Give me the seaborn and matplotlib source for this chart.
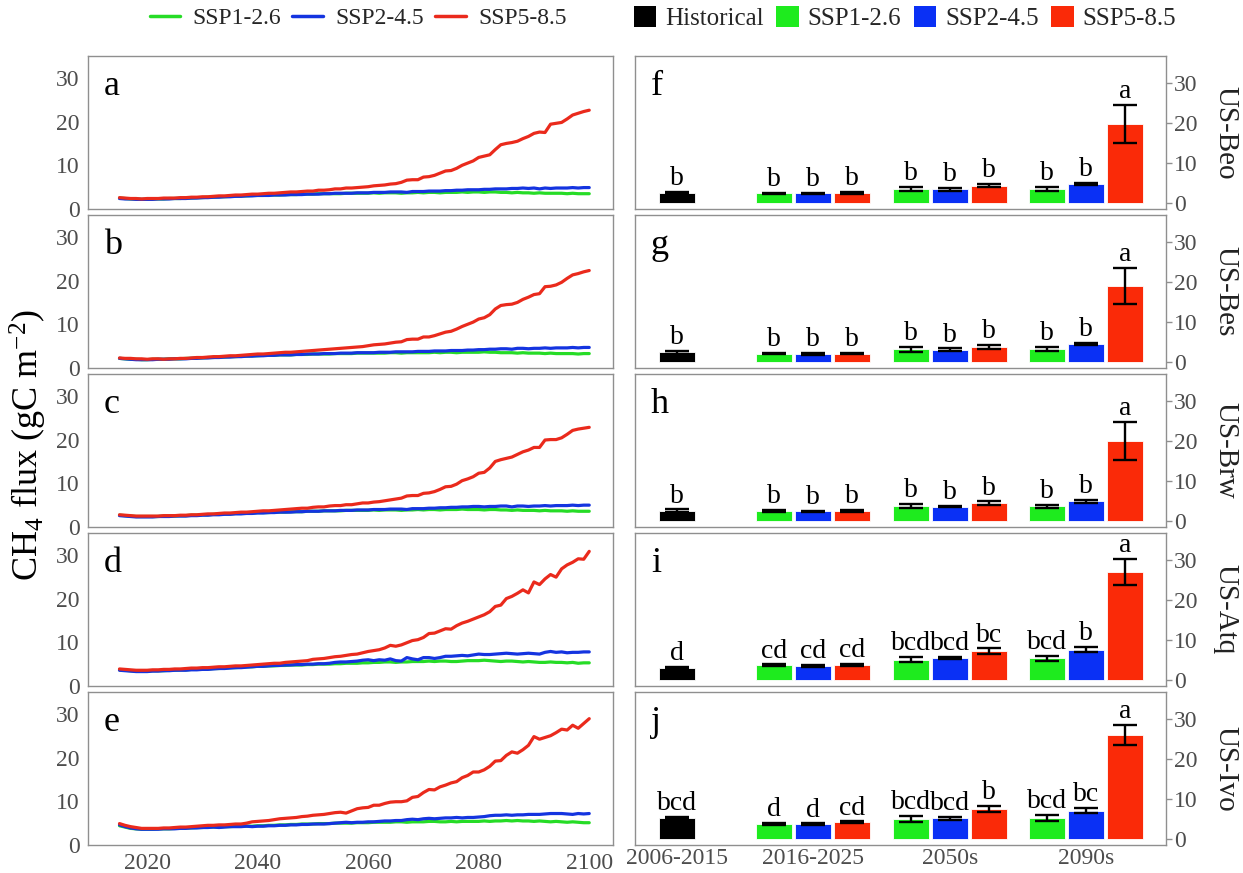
import numpy as np
import pandas as pd
import matplotlib
matplotlib.use("Agg")
import matplotlib.pyplot as plt
import seaborn as sns
from matplotlib.lines import Line2D
from matplotlib.patches import Patch

sns.set_theme(style="white")
plt.rcParams['font.family'] = ['Liberation Serif', 'DejaVu Serif']
plt.rcParams['mathtext.fontset'] = 'custom'
plt.rcParams['mathtext.rm'] = 'Liberation Serif'
plt.rcParams['mathtext.it'] = 'Liberation Serif:italic'
plt.rcParams['mathtext.bf'] = 'Liberation Serif:bold'

# ---------------- data ----------------
years = list(range(2015, 2101))
scenarios = ["SSP1-2.6", "SSP2-4.5", "SSP5-8.5"]
sites = ["US-Beo", "US-Bes", "US-Brw", "US-Atq", "US-Ivo"]
left_letters = ["a", "b", "c", "d", "e"]
right_letters = ["f", "g", "h", "i", "j"]
periods = ["2006-2015", "2016-2025", "2050s", "2090s"]

red_a = [2.6, 2.5, 2.4, 2.4, 2.3, 2.4, 2.4, 2.4, 2.5, 2.5,
         2.5, 2.6, 2.6, 2.7, 2.7, 2.8, 2.8, 2.9, 3.0, 3.0,
         3.1, 3.2, 3.2, 3.3, 3.4, 3.4, 3.5, 3.6, 3.6, 3.7,
         3.8, 3.9, 3.9, 4.0, 4.1, 4.1, 4.3, 4.3, 4.4, 4.6,
         4.6, 4.8, 4.8, 4.9, 5.0, 5.1, 5.3, 5.4, 5.5, 5.7,
         5.8, 6.1, 6.6, 6.7, 6.7, 7.3, 7.4, 7.7, 8.2, 8.7,
         8.8, 9.3, 10.0, 10.5, 11.0, 11.8, 12.1, 12.4, 13.6, 14.7,
         15.0, 15.2, 15.5, 16.1, 16.6, 17.3, 17.6, 17.5, 19.4, 19.6,
         19.8, 20.6, 21.5, 21.9, 22.3, 22.6]
blue_a = [2.4, 2.3, 2.3, 2.2, 2.2, 2.2, 2.2, 2.3, 2.3, 2.3,
          2.4, 2.4, 2.4, 2.5, 2.5, 2.6, 2.6, 2.7, 2.7, 2.8,
          2.8, 2.9, 2.9, 3.0, 3.0, 3.1, 3.1, 3.1, 3.2, 3.2,
          3.2, 3.3, 3.3, 3.3, 3.4, 3.4, 3.4, 3.5, 3.5, 3.6,
          3.6, 3.6, 3.6, 3.7, 3.7, 3.7, 3.8, 3.8, 3.8, 3.9,
          3.9, 3.9, 3.8, 4.0, 4.0, 4.0, 4.1, 4.1, 4.1, 4.2,
          4.2, 4.3, 4.3, 4.4, 4.4, 4.4, 4.5, 4.5, 4.6, 4.6,
          4.6, 4.7, 4.7, 4.8, 4.7, 4.8, 4.6, 4.8, 4.7, 4.8,
          4.8, 4.8, 4.9, 4.8, 4.9, 4.9]
green_a = [2.5, 2.4, 2.3, 2.3, 2.2, 2.2, 2.3, 2.3, 2.3, 2.4,
           2.4, 2.4, 2.5, 2.5, 2.6, 2.6, 2.7, 2.7, 2.8, 2.8,
           2.9, 2.9, 3.0, 3.0, 3.1, 3.1, 3.1, 3.2, 3.2, 3.2,
           3.3, 3.3, 3.3, 3.4, 3.4, 3.4, 3.5, 3.5, 3.5, 3.5,
           3.5, 3.6, 3.6, 3.6, 3.6, 3.6, 3.7, 3.6, 3.7, 3.7,
           3.7, 3.6, 3.7, 3.7, 3.8, 3.7, 3.8, 3.8, 3.7, 3.8,
           3.8, 3.8, 3.9, 3.8, 3.9, 3.9, 3.8, 3.9, 3.9, 3.8,
           3.8, 3.7, 3.8, 3.7, 3.7, 3.6, 3.7, 3.6, 3.6, 3.6,
           3.6, 3.5, 3.6, 3.5, 3.5, 3.5]

red_b = [2.3, 2.2, 2.2, 2.1, 2.1, 2.0, 2.1, 2.1, 2.0, 2.1,
         2.1, 2.2, 2.2, 2.3, 2.4, 2.4, 2.5, 2.6, 2.6, 2.7,
         2.8, 2.8, 2.9, 3.0, 3.1, 3.2, 3.2, 3.3, 3.4, 3.5,
         3.6, 3.6, 3.7, 3.8, 3.9, 4.0, 4.1, 4.2, 4.3, 4.4,
         4.5, 4.6, 4.7, 4.8, 4.9, 5.1, 5.3, 5.4, 5.5, 5.7,
         5.9, 6.0, 6.5, 6.6, 6.6, 7.1, 7.1, 7.4, 7.8, 8.2,
         8.4, 8.9, 9.5, 10.0, 10.5, 11.2, 11.5, 12.2, 13.5, 14.3,
         14.5, 14.6, 15.0, 15.7, 16.2, 16.8, 17.0, 18.6, 18.7, 19.0,
         19.6, 20.5, 21.3, 21.6, 22.0, 22.3]
blue_b = [2.2, 2.1, 2.0, 1.9, 1.9, 1.9, 1.9, 2.0, 2.0, 2.0,
          2.1, 2.1, 2.1, 2.2, 2.2, 2.3, 2.3, 2.4, 2.4, 2.5,
          2.5, 2.6, 2.6, 2.7, 2.7, 2.8, 2.8, 2.9, 2.9, 3.0,
          3.0, 3.0, 3.1, 3.1, 3.2, 3.2, 3.2, 3.3, 3.3, 3.3,
          3.4, 3.4, 3.4, 3.5, 3.5, 3.5, 3.5, 3.6, 3.6, 3.6,
          3.7, 3.7, 3.7, 3.7, 3.8, 3.8, 3.8, 3.9, 3.9, 3.9,
          4.0, 4.0, 4.0, 4.1, 4.1, 4.2, 4.2, 4.3, 4.3, 4.4,
          4.4, 4.3, 4.5, 4.5, 4.4, 4.5, 4.5, 4.6, 4.5, 4.6,
          4.6, 4.6, 4.7, 4.6, 4.7, 4.7]
green_b = [2.2, 2.1, 2.0, 2.0, 1.9, 1.9, 2.0, 2.0, 2.0, 2.1,
           2.1, 2.1, 2.2, 2.2, 2.3, 2.3, 2.4, 2.4, 2.5, 2.5,
           2.6, 2.6, 2.7, 2.7, 2.8, 2.8, 2.9, 2.9, 2.9, 3.0,
           3.0, 3.0, 3.1, 3.1, 3.1, 3.2, 3.2, 3.2, 3.2, 3.3,
           3.3, 3.3, 3.3, 3.4, 3.4, 3.4, 3.4, 3.4, 3.4, 3.5,
           3.5, 3.4, 3.5, 3.5, 3.5, 3.5, 3.5, 3.6, 3.5, 3.6,
           3.6, 3.5, 3.6, 3.6, 3.6, 3.6, 3.7, 3.6, 3.6, 3.5,
           3.5, 3.5, 3.4, 3.5, 3.4, 3.4, 3.4, 3.3, 3.4, 3.3,
           3.3, 3.3, 3.3, 3.2, 3.3, 3.3]

red_c = [2.8, 2.7, 2.6, 2.5, 2.5, 2.5, 2.5, 2.5, 2.6, 2.6,
         2.6, 2.7, 2.7, 2.8, 2.8, 2.9, 3.0, 3.0, 3.1, 3.2,
         3.2, 3.3, 3.4, 3.4, 3.5, 3.6, 3.7, 3.7, 3.8, 3.9,
         4.0, 4.1, 4.2, 4.3, 4.3, 4.5, 4.6, 4.6, 4.8, 4.9,
         4.9, 5.1, 5.1, 5.3, 5.5, 5.5, 5.7, 5.8, 6.0, 6.2,
         6.4, 6.6, 7.1, 7.2, 7.2, 7.7, 7.8, 8.1, 8.6, 9.2,
         9.3, 9.8, 10.6, 11.0, 11.5, 12.3, 12.5, 13.5, 15.0, 15.4,
         15.7, 16.0, 16.6, 17.2, 17.6, 18.2, 18.2, 19.9, 20.0, 20.0,
         20.4, 21.2, 22.1, 22.4, 22.6, 22.8]
blue_c = [2.6, 2.5, 2.4, 2.3, 2.3, 2.3, 2.3, 2.4, 2.4, 2.4,
          2.5, 2.5, 2.5, 2.6, 2.6, 2.7, 2.7, 2.8, 2.8, 2.9,
          2.9, 3.0, 3.0, 3.1, 3.1, 3.2, 3.2, 3.3, 3.3, 3.4,
          3.4, 3.4, 3.5, 3.5, 3.6, 3.6, 3.6, 3.7, 3.7, 3.7,
          3.8, 3.8, 3.8, 3.9, 3.9, 3.9, 4.0, 4.0, 4.0, 4.1,
          4.1, 4.1, 4.0, 4.2, 4.2, 4.2, 4.3, 4.3, 4.4, 4.4,
          4.5, 4.5, 4.6, 4.6, 4.7, 4.7, 4.6, 4.7, 4.7, 4.8,
          4.8, 4.6, 4.8, 4.8, 4.7, 4.8, 4.8, 4.9, 4.8, 4.9,
          4.9, 4.9, 5.0, 4.9, 5.0, 5.0]
green_c = [2.7, 2.6, 2.5, 2.4, 2.4, 2.4, 2.4, 2.4, 2.5, 2.5,
           2.5, 2.6, 2.6, 2.7, 2.7, 2.8, 2.8, 2.9, 2.9, 3.0,
           3.0, 3.1, 3.1, 3.2, 3.2, 3.3, 3.3, 3.3, 3.4, 3.4,
           3.4, 3.5, 3.5, 3.5, 3.6, 3.6, 3.6, 3.7, 3.7, 3.7,
           3.7, 3.8, 3.8, 3.8, 3.8, 3.8, 3.9, 3.8, 3.9, 3.9,
           3.9, 3.8, 3.9, 3.9, 4.0, 3.9, 4.0, 4.0, 3.9, 4.0,
           4.0, 4.0, 4.1, 4.0, 4.0, 4.0, 3.9, 4.0, 4.0, 3.9,
           3.9, 3.8, 3.9, 3.8, 3.8, 3.8, 3.7, 3.8, 3.7, 3.7,
           3.7, 3.6, 3.7, 3.6, 3.6, 3.6]

red_d = [3.9, 3.8, 3.7, 3.6, 3.6, 3.6, 3.7, 3.7, 3.8, 3.8,
         3.9, 3.9, 4.0, 4.1, 4.1, 4.2, 4.2, 4.3, 4.4, 4.4,
         4.5, 4.6, 4.6, 4.7, 4.8, 4.9, 5.0, 5.1, 5.2, 5.2,
         5.4, 5.5, 5.6, 5.7, 5.8, 6.1, 6.2, 6.3, 6.5, 6.7,
         6.8, 7.0, 7.2, 7.3, 7.6, 7.9, 8.1, 8.3, 8.7, 9.3,
         9.1, 9.4, 9.9, 10.4, 10.6, 11.1, 12.0, 12.1, 12.6, 13.1,
         13.0, 13.8, 14.4, 14.8, 15.3, 15.8, 16.3, 17.0, 18.2, 18.5,
         20.0, 20.5, 21.2, 22.0, 21.3, 23.8, 23.2, 24.5, 25.5, 24.9,
         26.8, 27.7, 28.3, 29.1, 29.0, 30.8]
blue_d = [3.6, 3.5, 3.4, 3.3, 3.3, 3.3, 3.4, 3.4, 3.5, 3.5,
          3.6, 3.6, 3.6, 3.7, 3.7, 3.8, 3.8, 3.9, 4.0, 4.0,
          4.1, 4.2, 4.2, 4.3, 4.4, 4.5, 4.5, 4.6, 4.7, 4.7,
          4.8, 4.8, 4.9, 4.9, 5.0, 5.0, 5.1, 5.1, 5.2, 5.4,
          5.5, 5.5, 5.6, 5.7, 5.9, 6.0, 5.8, 6.0, 5.9, 6.2,
          5.8, 5.7, 6.5, 6.2, 6.0, 6.5, 6.5, 6.3, 6.5, 6.8,
          6.8, 6.9, 7.0, 6.9, 7.1, 7.3, 7.2, 7.2, 7.3, 7.4,
          7.5, 7.4, 7.3, 7.4, 7.5, 7.4, 7.3, 7.7, 7.9, 7.7,
          7.8, 7.6, 7.7, 7.7, 7.8, 7.8]
green_d = [3.7, 3.6, 3.5, 3.4, 3.4, 3.4, 3.5, 3.5, 3.5, 3.6,
           3.6, 3.7, 3.7, 3.8, 3.8, 3.9, 3.9, 4.0, 4.0, 4.1,
           4.2, 4.2, 4.3, 4.4, 4.4, 4.5, 4.5, 4.6, 4.6, 4.7,
           4.7, 4.8, 4.8, 4.8, 4.9, 4.9, 5.0, 5.0, 5.0, 5.1,
           5.1, 5.2, 5.2, 5.2, 5.3, 5.3, 5.4, 5.4, 5.5, 5.5,
           5.4, 5.5, 5.5, 5.6, 5.6, 5.6, 5.7, 5.6, 5.7, 5.7,
           5.6, 5.6, 5.7, 5.8, 5.8, 5.8, 5.9, 5.8, 5.7, 5.6,
           5.7, 5.7, 5.6, 5.5, 5.6, 5.5, 5.4, 5.4, 5.5, 5.4,
           5.4, 5.3, 5.4, 5.2, 5.3, 5.3]

red_e = [4.9, 4.5, 4.2, 4.0, 3.8, 3.8, 3.8, 3.8, 3.9, 3.9,
         4.0, 4.1, 4.1, 4.2, 4.3, 4.4, 4.5, 4.5, 4.6, 4.6,
         4.7, 4.8, 4.8, 5.0, 5.3, 5.4, 5.5, 5.6, 5.8, 6.0,
         6.1, 6.2, 6.3, 6.5, 6.6, 6.8, 6.9, 7.0, 7.2, 7.4,
         7.5, 7.3, 7.8, 8.3, 8.5, 8.6, 9.1, 9.1, 9.5, 9.8,
         9.9, 9.9, 10.1, 10.9, 11.1, 12.0, 12.7, 12.6, 13.3, 13.7,
         14.2, 14.5, 15.4, 15.9, 16.7, 16.7, 17.2, 18.0, 19.2, 19.3,
         20.5, 21.3, 21.0, 21.8, 22.8, 24.8, 24.2, 24.6, 25.0, 25.7,
         26.5, 26.3, 27.4, 26.7, 27.8, 28.9]
blue_e = [4.6, 4.2, 3.9, 3.7, 3.6, 3.6, 3.6, 3.6, 3.7, 3.7,
          3.7, 3.8, 3.8, 3.9, 3.9, 4.0, 4.0, 4.1, 4.0, 4.1,
          4.2, 4.2, 4.2, 4.3, 4.2, 4.3, 4.3, 4.4, 4.4, 4.5,
          4.5, 4.6, 4.6, 4.7, 4.7, 4.8, 4.8, 4.8, 4.9, 5.0,
          5.1, 5.2, 5.1, 5.2, 5.2, 5.3, 5.3, 5.4, 5.5, 5.5,
          5.6, 5.6, 5.8, 5.9, 5.8, 6.0, 6.1, 6.0, 6.1, 6.2,
          6.2, 6.3, 6.2, 6.3, 6.3, 6.4, 6.5, 6.7, 6.8, 6.8,
          6.9, 6.8, 6.9, 6.9, 7.0, 7.0, 7.0, 7.1, 7.2, 7.2,
          7.2, 7.1, 7.0, 7.2, 7.1, 7.2]
green_e = [4.4, 4.1, 3.8, 3.7, 3.6, 3.6, 3.6, 3.7, 3.7, 3.7,
           3.8, 3.8, 3.9, 3.9, 4.0, 4.0, 4.1, 4.1, 4.1, 4.2,
           4.2, 4.3, 4.3, 4.3, 4.3, 4.4, 4.4, 4.5, 4.5, 4.6,
           4.6, 4.7, 4.7, 4.8, 4.8, 4.8, 4.9, 4.9, 4.9, 5.0,
           5.0, 5.0, 5.0, 5.1, 5.1, 5.1, 5.2, 5.2, 5.2, 5.2,
           5.3, 5.3, 5.2, 5.3, 5.3, 5.3, 5.4, 5.4, 5.3, 5.3,
           5.4, 5.3, 5.4, 5.4, 5.4, 5.4, 5.5, 5.4, 5.5, 5.5,
           5.6, 5.5, 5.6, 5.5, 5.5, 5.4, 5.5, 5.4, 5.3, 5.4,
           5.3, 5.2, 5.3, 5.2, 5.1, 5.1]

green_series = [green_a, green_b, green_c, green_d, green_e]
blue_series = [blue_a, blue_b, blue_c, blue_d, blue_e]
red_series = [red_a, red_b, red_c, red_d, red_e]

# bar data: historical (2006-2015) and SSP means per period (rows: 2016-2025, 2050s, 2090s; cols: scenarios)
hist_mean = [2.5, 2.4, 2.6, 3.0, 5.3]
hist_err = [0.3, 0.3, 0.3, 0.3, 0.3]
hist_letter = ["b", "b", "b", "d", "bcd"]

ssp_mean = [
    [[2.4, 2.4, 2.5], [3.6, 3.4, 4.3], [3.6, 4.7, 19.7]],
    [[2.1, 2.0, 2.1], [3.2, 3.1, 3.8], [3.2, 4.5, 18.9]],
    [[2.5, 2.4, 2.5], [3.7, 3.6, 4.5], [3.7, 4.9, 20.0]],
    [[3.7, 3.5, 3.8], [5.1, 5.5, 7.2], [5.4, 7.6, 27.0]],
    [[3.8, 3.7, 4.2], [5.0, 5.2, 7.5], [5.3, 7.1, 26.0]],
]
ssp_err = [
    [[0.2, 0.2, 0.2], [0.5, 0.3, 0.4], [0.5, 0.3, 4.7]],
    [[0.2, 0.2, 0.2], [0.6, 0.3, 0.5], [0.5, 0.3, 4.5]],
    [[0.2, 0.2, 0.2], [0.5, 0.2, 0.4], [0.4, 0.3, 4.7]],
    [[0.2, 0.2, 0.2], [0.6, 0.3, 0.7], [0.6, 0.6, 3.3]],
    [[0.2, 0.2, 0.2], [0.7, 0.4, 0.7], [0.7, 0.7, 2.5]],
]
ssp_letter = [
    [["b", "b", "b"], ["b", "b", "b"], ["b", "b", "a"]],
    [["b", "b", "b"], ["b", "b", "b"], ["b", "b", "a"]],
    [["b", "b", "b"], ["b", "b", "b"], ["b", "b", "a"]],
    [["cd", "cd", "cd"], ["bcd", "bcd", "bc"], ["bcd", "b", "a"]],
    [["d", "d", "cd"], ["bcd", "bcd", "b"], ["bcd", "bc", "a"]],
]

# ---------------- styling ----------------
line_colors = {"SSP1-2.6": "#26DC26", "SSP2-4.5": "#1434E0", "SSP5-8.5": "#EA2A1C"}
bar_colors = {"Historical": "#000000", "SSP1-2.6": "#1EEB1E", "SSP2-4.5": "#0A30F5", "SSP5-8.5": "#FA2A08"}
hue_bar = ["Historical"] + scenarios
dodge_step = 0.286
spine_col = "#8f8f8f"
tick_col = "#4d4d4d"

W, H = 1243, 873
fig = plt.figure(figsize=(W / 100, H / 100), dpi=100)

lx0, lw = 88, 525
rx0, rw = 635, 531
ptop = [56, 215, 374, 533, 692]
ph = 153


def style_axes(ax):
    for s in ax.spines.values():
        s.set_color(spine_col)
        s.set_linewidth(1.0)
    ax.tick_params(axis="both", colors=spine_col, labelcolor=tick_col, labelsize=17,
                   length=4, width=1, direction="out", pad=2)


for i in range(5):
    # ---- line panel ----
    axl = fig.add_axes([lx0 / W, 1 - (ptop[i] + ph) / H, lw / W, ph / H])
    df = pd.DataFrame({
        "year": years * 3,
        "value": green_series[i] + blue_series[i] + red_series[i],
        "scenario": [scenarios[0]] * len(years) + [scenarios[1]] * len(years) + [scenarios[2]] * len(years),
    })
    sns.lineplot(data=df, x="year", y="value", hue="scenario", hue_order=scenarios,
                 palette=line_colors, linewidth=2.3, legend=False, ax=axl)
    axl.set_xlim(2009.3, 2104.3)
    axl.set_ylim(0, 35)
    axl.set_yticks([0, 10, 20, 30])
    axl.set_xticks([2020, 2040, 2060, 2080, 2100])
    axl.set_xlabel("")
    axl.set_ylabel("")
    style_axes(axl)
    if i < 4:
        axl.tick_params(axis="x", labelbottom=False, length=0)
    axl.text(0.03, 0.80, left_letters[i], transform=axl.transAxes, fontsize=26,
             ha="left", va="center", color="black")

    # ---- bar panel ----
    axr = fig.add_axes([rx0 / W, 1 - (ptop[i] + ph) / H, rw / W, ph / H])
    pos, val, err, scen, let = [0.0], [hist_mean[i]], [hist_err[i]], ["Historical"], [hist_letter[i]]
    for p in range(3):
        for k in range(3):
            pos.append(round(p + 1 + (k - 1) * dodge_step, 3))
            val.append(ssp_mean[i][p][k])
            err.append(ssp_err[i][p][k])
            scen.append(scenarios[k])
            let.append(ssp_letter[i][p][k])
    dfb = pd.DataFrame({"pos": pos, "value": val, "err": err, "scenario": scen, "letter": let})
    sns.barplot(data=dfb, x="pos", y="value", hue="scenario", hue_order=hue_bar,
                palette=bar_colors, native_scale=True, dodge=False, width=0.92, saturation=1,
                errorbar=None, legend=False, edgecolor="white", linewidth=0.6, ax=axr)
    axr.errorbar(dfb["pos"], dfb["value"], yerr=dfb["err"], fmt="none", ecolor="black",
                 elinewidth=1.7, capsize=8.5, capthick=1.7, zorder=5)
    for _, r in dfb.iterrows():
        axr.text(r["pos"], r["value"] + r["err"] + 1.7, r["letter"], ha="center",
                 va="baseline", fontsize=20, color="black")
    axr.set_xlim(-0.305, 3.585)
    axr.set_ylim(-1.5, 36.7)
    axr.set_yticks([0, 10, 20, 30])
    axr.set_xticks([0, 1, 2, 3])
    axr.set_xticklabels(periods)
    axr.set_xlabel("")
    axr.set_ylabel("")
    axr.yaxis.tick_right()
    style_axes(axr)
    axr.tick_params(axis="x", length=0)
    if i < 4:
        axr.tick_params(axis="x", labelbottom=False)
    axr.text(0.03, 0.80, right_letters[i], transform=axr.transAxes, fontsize=26,
             ha="left", va="center", color="black")
    axr.text(1.112, 0.5, sites[i], transform=axr.transAxes, rotation=-90, fontsize=21,
             ha="center", va="center", color="#222222")

# y label
fig.text(0.023, 0.49, "CH$_4$ flux (gC m$^{-2}$)", rotation=90, ha="center", va="center",
         fontsize=26, color="black")

# legends
line_handles = [Line2D([0], [0], color=line_colors[s], lw=2.5) for s in scenarios]
fig.legend(line_handles, scenarios, loc="center", bbox_to_anchor=(0.288, 0.979), ncol=3,
           frameon=False, fontsize=17, handlelength=1.3, columnspacing=0.5, handletextpad=0.5)
bar_handles = [Patch(facecolor=bar_colors[s], edgecolor="none") for s in hue_bar]
fig.legend(bar_handles, hue_bar, loc="center", bbox_to_anchor=(0.728, 0.979), ncol=4,
           frameon=False, fontsize=18, handlelength=0.9, handleheight=0.9,
           columnspacing=0.5, handletextpad=0.35)

fig.savefig("out.png", dpi=100, facecolor="white")
